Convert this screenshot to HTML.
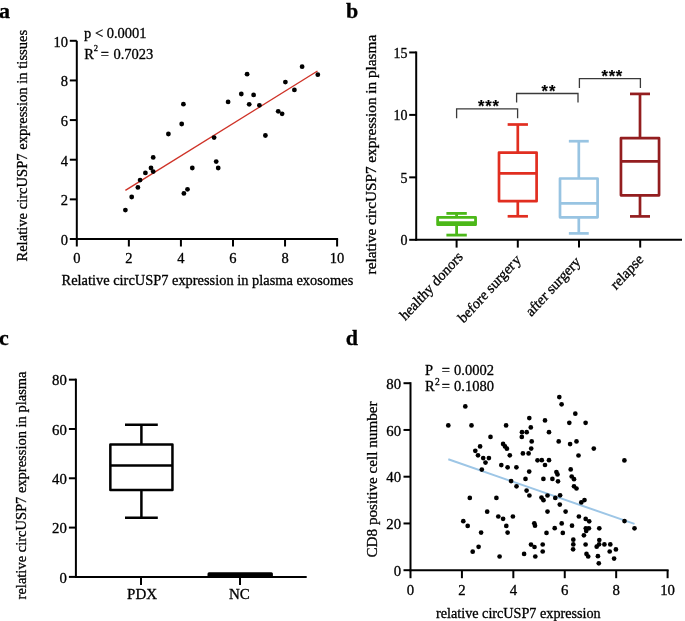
<!DOCTYPE html>
<html><head><meta charset="utf-8"><style>
html,body{margin:0;padding:0;background:#fff;width:685px;height:621px;overflow:hidden;}
svg{display:block;will-change:transform;}
text{fill:#000;stroke:#000;stroke-width:0.3px;}
.st{stroke-width:0.2px;}
</style></head><body>
<svg width="685" height="621" viewBox="0 0 685 621">
<rect width="685" height="621" fill="#fff"/>
<text x="-1.00" y="17.80" font-size="22" text-anchor="start" font-weight="bold" font-family='"Liberation Serif", serif'>a</text>
<text x="346.00" y="17.80" font-size="22" text-anchor="start" font-weight="bold" font-family='"Liberation Serif", serif'>b</text>
<text x="-1.00" y="344.70" font-size="22" text-anchor="start" font-weight="bold" font-family='"Liberation Serif", serif'>c</text>
<text x="345.80" y="344.80" font-size="22" text-anchor="start" font-weight="bold" font-family='"Liberation Serif", serif'>d</text>
<line x1="76.80" y1="40.80" x2="76.80" y2="240.00" stroke="#000" stroke-width="2.0" stroke-linecap="butt"/>
<line x1="75.80" y1="239.00" x2="338.10" y2="239.00" stroke="#000" stroke-width="2.0" stroke-linecap="butt"/>
<line x1="69.80" y1="239.00" x2="76.80" y2="239.00" stroke="#000" stroke-width="2.0" stroke-linecap="butt"/>
<text x="68.00" y="245.00" font-size="14.5" text-anchor="end" font-weight="normal" font-family='"Liberation Serif", serif'>0</text>
<line x1="76.80" y1="239.00" x2="76.80" y2="246.50" stroke="#000" stroke-width="2.0" stroke-linecap="butt"/>
<text x="76.80" y="262.60" font-size="14.5" text-anchor="middle" font-weight="normal" font-family='"Liberation Serif", serif'>0</text>
<line x1="69.80" y1="199.36" x2="76.80" y2="199.36" stroke="#000" stroke-width="2.0" stroke-linecap="butt"/>
<text x="68.00" y="205.36" font-size="14.5" text-anchor="end" font-weight="normal" font-family='"Liberation Serif", serif'>2</text>
<line x1="128.86" y1="239.00" x2="128.86" y2="246.50" stroke="#000" stroke-width="2.0" stroke-linecap="butt"/>
<text x="128.86" y="262.60" font-size="14.5" text-anchor="middle" font-weight="normal" font-family='"Liberation Serif", serif'>2</text>
<line x1="69.80" y1="159.72" x2="76.80" y2="159.72" stroke="#000" stroke-width="2.0" stroke-linecap="butt"/>
<text x="68.00" y="165.72" font-size="14.5" text-anchor="end" font-weight="normal" font-family='"Liberation Serif", serif'>4</text>
<line x1="180.92" y1="239.00" x2="180.92" y2="246.50" stroke="#000" stroke-width="2.0" stroke-linecap="butt"/>
<text x="180.92" y="262.60" font-size="14.5" text-anchor="middle" font-weight="normal" font-family='"Liberation Serif", serif'>4</text>
<line x1="69.80" y1="120.08" x2="76.80" y2="120.08" stroke="#000" stroke-width="2.0" stroke-linecap="butt"/>
<text x="68.00" y="126.08" font-size="14.5" text-anchor="end" font-weight="normal" font-family='"Liberation Serif", serif'>6</text>
<line x1="232.98" y1="239.00" x2="232.98" y2="246.50" stroke="#000" stroke-width="2.0" stroke-linecap="butt"/>
<text x="232.98" y="262.60" font-size="14.5" text-anchor="middle" font-weight="normal" font-family='"Liberation Serif", serif'>6</text>
<line x1="69.80" y1="80.44" x2="76.80" y2="80.44" stroke="#000" stroke-width="2.0" stroke-linecap="butt"/>
<text x="68.00" y="86.44" font-size="14.5" text-anchor="end" font-weight="normal" font-family='"Liberation Serif", serif'>8</text>
<line x1="285.04" y1="239.00" x2="285.04" y2="246.50" stroke="#000" stroke-width="2.0" stroke-linecap="butt"/>
<text x="285.04" y="262.60" font-size="14.5" text-anchor="middle" font-weight="normal" font-family='"Liberation Serif", serif'>8</text>
<line x1="69.80" y1="40.80" x2="76.80" y2="40.80" stroke="#000" stroke-width="2.0" stroke-linecap="butt"/>
<text x="68.00" y="46.80" font-size="14.5" text-anchor="end" font-weight="normal" font-family='"Liberation Serif", serif'>10</text>
<line x1="337.10" y1="239.00" x2="337.10" y2="246.50" stroke="#000" stroke-width="2.0" stroke-linecap="butt"/>
<text x="337.10" y="262.60" font-size="14.5" text-anchor="middle" font-weight="normal" font-family='"Liberation Serif", serif'>10</text>
<text x="61.60" y="285.00" font-size="14.42" text-anchor="start" font-weight="normal" font-family='"Liberation Serif", serif'>Relative circUSP7 expression in plasma exosomes</text>
<text x="26.60" y="261.60" font-size="14.6" text-anchor="start" font-weight="normal" font-family='"Liberation Serif", serif' transform="rotate(-90 26.60 261.60)">Relative circUSP7 expression in tissues</text>
<text x="84.00" y="38.20" font-size="14.5" text-anchor="start" font-weight="normal" font-family='"Liberation Serif", serif'>p &lt; 0.0001</text>
<text x="84.2" y="58.5" font-size="14.5" font-family='"Liberation Serif", serif'>R<tspan font-size="8.5" dy="-7.2">2</tspan><tspan dy="7.2" x="100.7">=</tspan><tspan x="113.4">0.7023</tspan></text>
<line x1="125.40" y1="190.40" x2="317.50" y2="71.00" stroke="#cf3328" stroke-width="1.4" stroke-linecap="butt"/>
<circle cx="125.40" cy="210.10" r="2.4" fill="#000"/>
<circle cx="131.70" cy="197.00" r="2.4" fill="#000"/>
<circle cx="137.90" cy="187.40" r="2.4" fill="#000"/>
<circle cx="140.10" cy="180.10" r="2.4" fill="#000"/>
<circle cx="145.40" cy="172.90" r="2.4" fill="#000"/>
<circle cx="151.00" cy="168.00" r="2.4" fill="#000"/>
<circle cx="153.20" cy="171.60" r="2.4" fill="#000"/>
<circle cx="153.20" cy="157.40" r="2.4" fill="#000"/>
<circle cx="168.40" cy="134.00" r="2.4" fill="#000"/>
<circle cx="181.70" cy="124.00" r="2.4" fill="#000"/>
<circle cx="183.40" cy="104.20" r="2.4" fill="#000"/>
<circle cx="183.90" cy="193.40" r="2.4" fill="#000"/>
<circle cx="187.50" cy="189.30" r="2.4" fill="#000"/>
<circle cx="192.30" cy="168.00" r="2.4" fill="#000"/>
<circle cx="214.10" cy="137.60" r="2.4" fill="#000"/>
<circle cx="216.20" cy="161.60" r="2.4" fill="#000"/>
<circle cx="218.20" cy="168.00" r="2.4" fill="#000"/>
<circle cx="228.10" cy="101.90" r="2.4" fill="#000"/>
<circle cx="241.30" cy="94.00" r="2.4" fill="#000"/>
<circle cx="247.10" cy="74.20" r="2.4" fill="#000"/>
<circle cx="249.20" cy="104.30" r="2.4" fill="#000"/>
<circle cx="253.60" cy="94.90" r="2.4" fill="#000"/>
<circle cx="259.40" cy="105.30" r="2.4" fill="#000"/>
<circle cx="265.40" cy="135.50" r="2.4" fill="#000"/>
<circle cx="278.20" cy="111.30" r="2.4" fill="#000"/>
<circle cx="282.10" cy="113.80" r="2.4" fill="#000"/>
<circle cx="285.40" cy="82.10" r="2.4" fill="#000"/>
<circle cx="294.40" cy="89.90" r="2.4" fill="#000"/>
<circle cx="302.10" cy="66.70" r="2.4" fill="#000"/>
<circle cx="317.80" cy="74.70" r="2.4" fill="#000"/>
<line x1="416.20" y1="51.45" x2="416.20" y2="240.80" stroke="#000" stroke-width="2.0" stroke-linecap="butt"/>
<line x1="415.20" y1="239.80" x2="682.00" y2="239.80" stroke="#000" stroke-width="2.0" stroke-linecap="butt"/>
<line x1="409.20" y1="239.80" x2="416.20" y2="239.80" stroke="#000" stroke-width="2.0" stroke-linecap="butt"/>
<text x="0" y="0" font-size="14" text-anchor="end" font-weight="normal" font-family='"Liberation Serif", serif' transform="translate(407.60 245.30) scale(1 1.09)">0</text>
<line x1="409.20" y1="177.35" x2="416.20" y2="177.35" stroke="#000" stroke-width="2.0" stroke-linecap="butt"/>
<text x="0" y="0" font-size="14" text-anchor="end" font-weight="normal" font-family='"Liberation Serif", serif' transform="translate(407.60 182.85) scale(1 1.09)">5</text>
<line x1="409.20" y1="114.90" x2="416.20" y2="114.90" stroke="#000" stroke-width="2.0" stroke-linecap="butt"/>
<text x="0" y="0" font-size="14" text-anchor="end" font-weight="normal" font-family='"Liberation Serif", serif' transform="translate(407.60 120.40) scale(1 1.09)">10</text>
<line x1="409.20" y1="52.45" x2="416.20" y2="52.45" stroke="#000" stroke-width="2.0" stroke-linecap="butt"/>
<text x="0" y="0" font-size="14" text-anchor="end" font-weight="normal" font-family='"Liberation Serif", serif' transform="translate(407.60 57.95) scale(1 1.09)">15</text>
<text x="0" y="0" font-size="14.0" text-anchor="start" font-weight="normal" font-family='"Liberation Serif", serif' transform="translate(375.70 274.40) scale(1 1.09) rotate(-90)">relative circUSP7 expression in plasma</text>
<line x1="456.60" y1="239.80" x2="456.60" y2="247.60" stroke="#000" stroke-width="2.0" stroke-linecap="butt"/>
<text x="0" y="0" font-size="14.0" text-anchor="end" font-weight="normal" font-family='"Liberation Serif", serif' transform="translate(463.70 257.60) scale(1 1.09) rotate(-45)">healthy donors</text>
<line x1="517.80" y1="239.80" x2="517.80" y2="247.60" stroke="#000" stroke-width="2.0" stroke-linecap="butt"/>
<text x="0" y="0" font-size="14.0" text-anchor="end" font-weight="normal" font-family='"Liberation Serif", serif' transform="translate(521.70 260.50) scale(1 1.09) rotate(-45)">before surger<tspan dx="1.3">y</tspan></text>
<line x1="579.00" y1="239.80" x2="579.00" y2="247.60" stroke="#000" stroke-width="2.0" stroke-linecap="butt"/>
<text x="0" y="0" font-size="14.0" text-anchor="end" font-weight="normal" font-family='"Liberation Serif", serif' transform="translate(581.20 262.70) scale(1 1.09) rotate(-45)">after surgery</text>
<line x1="640.20" y1="239.80" x2="640.20" y2="247.60" stroke="#000" stroke-width="2.0" stroke-linecap="butt"/>
<text x="0" y="0" font-size="14.0" text-anchor="end" font-weight="normal" font-family='"Liberation Serif", serif' transform="translate(644.10 260.10) scale(1 1.09) rotate(-45)">relapse</text>
<rect x="437.65" y="217.40" width="37.90" height="7.30" fill="none" stroke="#4cb819" stroke-width="2.8" stroke-linejoin="round"/>
<line x1="437.65" y1="222.60" x2="475.55" y2="222.60" stroke="#4cb819" stroke-width="2.8" stroke-linecap="butt"/>
<line x1="456.60" y1="213.40" x2="456.60" y2="217.40" stroke="#4cb819" stroke-width="2.8" stroke-linecap="butt"/>
<line x1="456.60" y1="224.70" x2="456.60" y2="235.10" stroke="#4cb819" stroke-width="2.8" stroke-linecap="butt"/>
<line x1="446.40" y1="213.40" x2="466.80" y2="213.40" stroke="#4cb819" stroke-width="2.8" stroke-linecap="butt"/>
<line x1="446.40" y1="235.10" x2="466.80" y2="235.10" stroke="#4cb819" stroke-width="2.8" stroke-linecap="butt"/>
<rect x="499.00" y="152.60" width="37.60" height="48.60" fill="none" stroke="#e12e20" stroke-width="2.7" stroke-linejoin="round"/>
<line x1="499.00" y1="173.40" x2="536.60" y2="173.40" stroke="#e12e20" stroke-width="2.7" stroke-linecap="butt"/>
<line x1="517.80" y1="124.50" x2="517.80" y2="152.60" stroke="#e12e20" stroke-width="2.7" stroke-linecap="butt"/>
<line x1="517.80" y1="201.20" x2="517.80" y2="216.30" stroke="#e12e20" stroke-width="2.7" stroke-linecap="butt"/>
<line x1="507.65" y1="124.50" x2="527.95" y2="124.50" stroke="#e12e20" stroke-width="2.7" stroke-linecap="butt"/>
<line x1="507.65" y1="216.30" x2="527.95" y2="216.30" stroke="#e12e20" stroke-width="2.7" stroke-linecap="butt"/>
<rect x="560.00" y="178.50" width="37.60" height="38.80" fill="none" stroke="#98c4e2" stroke-width="2.7" stroke-linejoin="round"/>
<line x1="560.00" y1="203.40" x2="597.60" y2="203.40" stroke="#98c4e2" stroke-width="2.7" stroke-linecap="butt"/>
<line x1="578.80" y1="141.20" x2="578.80" y2="178.50" stroke="#98c4e2" stroke-width="2.7" stroke-linecap="butt"/>
<line x1="578.80" y1="217.30" x2="578.80" y2="233.40" stroke="#98c4e2" stroke-width="2.7" stroke-linecap="butt"/>
<line x1="568.85" y1="141.20" x2="588.75" y2="141.20" stroke="#98c4e2" stroke-width="2.7" stroke-linecap="butt"/>
<line x1="568.85" y1="233.40" x2="588.75" y2="233.40" stroke="#98c4e2" stroke-width="2.7" stroke-linecap="butt"/>
<rect x="620.95" y="138.20" width="38.10" height="57.10" fill="none" stroke="#931d1f" stroke-width="2.7" stroke-linejoin="round"/>
<line x1="620.95" y1="161.40" x2="659.05" y2="161.40" stroke="#931d1f" stroke-width="2.7" stroke-linecap="butt"/>
<line x1="640.00" y1="93.90" x2="640.00" y2="138.20" stroke="#931d1f" stroke-width="2.7" stroke-linecap="butt"/>
<line x1="640.00" y1="195.30" x2="640.00" y2="216.40" stroke="#931d1f" stroke-width="2.7" stroke-linecap="butt"/>
<line x1="630.00" y1="93.90" x2="650.00" y2="93.90" stroke="#931d1f" stroke-width="2.7" stroke-linecap="butt"/>
<line x1="630.00" y1="216.40" x2="650.00" y2="216.40" stroke="#931d1f" stroke-width="2.7" stroke-linecap="butt"/>
<path d="M456.60 118.20 V108.90 H517.60 V118.20" fill="none" stroke="#3a3a3a" stroke-width="1.3"/>
<text x="481.20" y="111.92" font-size="16.5" text-anchor="middle" font-weight="bold" font-family='"Liberation Sans", sans-serif' class="st">*</text>
<text x="488.40" y="111.92" font-size="16.5" text-anchor="middle" font-weight="bold" font-family='"Liberation Sans", sans-serif' class="st">*</text>
<text x="495.80" y="111.92" font-size="16.5" text-anchor="middle" font-weight="bold" font-family='"Liberation Sans", sans-serif' class="st">*</text>
<path d="M516.60 102.60 V93.50 H578.00 V102.60" fill="none" stroke="#3a3a3a" stroke-width="1.3"/>
<text x="544.80" y="97.32" font-size="16.5" text-anchor="middle" font-weight="bold" font-family='"Liberation Sans", sans-serif' class="st">*</text>
<text x="552.10" y="97.32" font-size="16.5" text-anchor="middle" font-weight="bold" font-family='"Liberation Sans", sans-serif' class="st">*</text>
<path d="M579.40 87.90 V78.60 H640.40 V87.90" fill="none" stroke="#3a3a3a" stroke-width="1.3"/>
<text x="604.70" y="82.42" font-size="16.5" text-anchor="middle" font-weight="bold" font-family='"Liberation Sans", sans-serif' class="st">*</text>
<text x="611.90" y="82.42" font-size="16.5" text-anchor="middle" font-weight="bold" font-family='"Liberation Sans", sans-serif' class="st">*</text>
<text x="619.00" y="82.42" font-size="16.5" text-anchor="middle" font-weight="bold" font-family='"Liberation Sans", sans-serif' class="st">*</text>
<line x1="75.90" y1="378.66" x2="75.90" y2="577.90" stroke="#000" stroke-width="2.0" stroke-linecap="butt"/>
<line x1="74.90" y1="576.90" x2="306.70" y2="576.90" stroke="#000" stroke-width="2.0" stroke-linecap="butt"/>
<line x1="68.90" y1="576.90" x2="75.90" y2="576.90" stroke="#000" stroke-width="2.0" stroke-linecap="butt"/>
<text x="66.90" y="582.50" font-size="14.8" text-anchor="end" font-weight="normal" font-family='"Liberation Serif", serif'>0</text>
<line x1="68.90" y1="527.59" x2="75.90" y2="527.59" stroke="#000" stroke-width="2.0" stroke-linecap="butt"/>
<text x="66.90" y="533.19" font-size="14.8" text-anchor="end" font-weight="normal" font-family='"Liberation Serif", serif'>20</text>
<line x1="68.90" y1="478.28" x2="75.90" y2="478.28" stroke="#000" stroke-width="2.0" stroke-linecap="butt"/>
<text x="66.90" y="483.88" font-size="14.8" text-anchor="end" font-weight="normal" font-family='"Liberation Serif", serif'>40</text>
<line x1="68.90" y1="428.97" x2="75.90" y2="428.97" stroke="#000" stroke-width="2.0" stroke-linecap="butt"/>
<text x="66.90" y="434.57" font-size="14.8" text-anchor="end" font-weight="normal" font-family='"Liberation Serif", serif'>60</text>
<line x1="68.90" y1="379.66" x2="75.90" y2="379.66" stroke="#000" stroke-width="2.0" stroke-linecap="butt"/>
<text x="66.90" y="385.26" font-size="14.8" text-anchor="end" font-weight="normal" font-family='"Liberation Serif", serif'>80</text>
<text x="26.50" y="599.40" font-size="14.5" text-anchor="start" font-weight="normal" font-family='"Liberation Serif", serif' transform="rotate(-90 26.50 599.40)">relative circUSP7 expression in plasma</text>
<line x1="141.00" y1="576.90" x2="141.00" y2="584.90" stroke="#000" stroke-width="2.0" stroke-linecap="butt"/>
<text x="142.10" y="598.60" font-size="15" text-anchor="middle" font-weight="normal" font-family='"Liberation Serif", serif'>PDX</text>
<line x1="240.00" y1="576.90" x2="240.00" y2="584.90" stroke="#000" stroke-width="2.0" stroke-linecap="butt"/>
<text x="239.30" y="598.60" font-size="15" text-anchor="middle" font-weight="normal" font-family='"Liberation Serif", serif'>NC</text>
<rect x="110.35" y="444.50" width="62.10" height="45.40" fill="none" stroke="#000" stroke-width="2.5" stroke-linejoin="round"/>
<line x1="110.35" y1="465.50" x2="172.45" y2="465.50" stroke="#000" stroke-width="2.5" stroke-linecap="butt"/>
<line x1="141.40" y1="424.80" x2="141.40" y2="444.50" stroke="#000" stroke-width="2.5" stroke-linecap="butt"/>
<line x1="141.40" y1="489.90" x2="141.40" y2="517.70" stroke="#000" stroke-width="2.5" stroke-linecap="butt"/>
<line x1="125.00" y1="424.80" x2="157.80" y2="424.80" stroke="#000" stroke-width="2.5" stroke-linecap="butt"/>
<line x1="125.00" y1="517.70" x2="157.80" y2="517.70" stroke="#000" stroke-width="2.5" stroke-linecap="butt"/>
<rect x="207.5" y="572.2" width="65.4" height="5" rx="1.5" fill="#000"/>
<line x1="410.50" y1="382.20" x2="410.50" y2="571.20" stroke="#000" stroke-width="2.0" stroke-linecap="butt"/>
<line x1="409.50" y1="570.20" x2="668.60" y2="570.20" stroke="#000" stroke-width="2.0" stroke-linecap="butt"/>
<line x1="403.50" y1="570.20" x2="410.50" y2="570.20" stroke="#000" stroke-width="2.0" stroke-linecap="butt"/>
<text x="401.10" y="575.80" font-size="14.8" text-anchor="end" font-weight="normal" font-family='"Liberation Serif", serif'>0</text>
<line x1="403.50" y1="523.45" x2="410.50" y2="523.45" stroke="#000" stroke-width="2.0" stroke-linecap="butt"/>
<text x="401.10" y="529.05" font-size="14.8" text-anchor="end" font-weight="normal" font-family='"Liberation Serif", serif'>20</text>
<line x1="403.50" y1="476.70" x2="410.50" y2="476.70" stroke="#000" stroke-width="2.0" stroke-linecap="butt"/>
<text x="401.10" y="482.30" font-size="14.8" text-anchor="end" font-weight="normal" font-family='"Liberation Serif", serif'>40</text>
<line x1="403.50" y1="429.95" x2="410.50" y2="429.95" stroke="#000" stroke-width="2.0" stroke-linecap="butt"/>
<text x="401.10" y="435.55" font-size="14.8" text-anchor="end" font-weight="normal" font-family='"Liberation Serif", serif'>60</text>
<line x1="403.50" y1="383.20" x2="410.50" y2="383.20" stroke="#000" stroke-width="2.0" stroke-linecap="butt"/>
<text x="401.10" y="388.80" font-size="14.8" text-anchor="end" font-weight="normal" font-family='"Liberation Serif", serif'>80</text>
<line x1="410.50" y1="570.20" x2="410.50" y2="578.20" stroke="#000" stroke-width="2.0" stroke-linecap="butt"/>
<text x="410.50" y="594.60" font-size="14.8" text-anchor="middle" font-weight="normal" font-family='"Liberation Serif", serif'>0</text>
<line x1="461.92" y1="570.20" x2="461.92" y2="578.20" stroke="#000" stroke-width="2.0" stroke-linecap="butt"/>
<text x="461.92" y="594.60" font-size="14.8" text-anchor="middle" font-weight="normal" font-family='"Liberation Serif", serif'>2</text>
<line x1="513.34" y1="570.20" x2="513.34" y2="578.20" stroke="#000" stroke-width="2.0" stroke-linecap="butt"/>
<text x="513.34" y="594.60" font-size="14.8" text-anchor="middle" font-weight="normal" font-family='"Liberation Serif", serif'>4</text>
<line x1="564.76" y1="570.20" x2="564.76" y2="578.20" stroke="#000" stroke-width="2.0" stroke-linecap="butt"/>
<text x="564.76" y="594.60" font-size="14.8" text-anchor="middle" font-weight="normal" font-family='"Liberation Serif", serif'>6</text>
<line x1="616.18" y1="570.20" x2="616.18" y2="578.20" stroke="#000" stroke-width="2.0" stroke-linecap="butt"/>
<text x="616.18" y="594.60" font-size="14.8" text-anchor="middle" font-weight="normal" font-family='"Liberation Serif", serif'>8</text>
<line x1="667.60" y1="570.20" x2="667.60" y2="578.20" stroke="#000" stroke-width="2.0" stroke-linecap="butt"/>
<text x="667.60" y="594.60" font-size="14.8" text-anchor="middle" font-weight="normal" font-family='"Liberation Serif", serif'>10</text>
<text x="0" y="0" font-size="14.3" text-anchor="start" font-weight="normal" font-family='"Liberation Serif", serif' transform="translate(376.80 557.50) scale(1 1.06) rotate(-90)">CD8 positive cell number</text>
<text x="436.00" y="617.50" font-size="14.2" text-anchor="start" font-weight="normal" font-family='"Liberation Serif", serif'>relative circUSP7 expression</text>
<text x="425.0" y="374.5" font-size="14.5" font-family='"Liberation Serif", serif'>P<tspan x="441.7">=</tspan><tspan x="454.0">0.0002</tspan></text>
<text x="425.0" y="391.4" font-size="14.5" font-family='"Liberation Serif", serif'>R<tspan font-size="9.5" dy="-6.2" dx="0.4">2</tspan><tspan dy="6.2" x="441.7">=</tspan><tspan x="454.0">0.1080</tspan></text>
<line x1="448.30" y1="459.30" x2="634.50" y2="523.90" stroke="#9dc6e6" stroke-width="2.0" stroke-linecap="butt"/>
<circle cx="465.30" cy="406.40" r="2.35" fill="#000"/>
<circle cx="448.30" cy="425.40" r="2.35" fill="#000"/>
<circle cx="471.50" cy="425.40" r="2.35" fill="#000"/>
<circle cx="506.10" cy="425.40" r="2.35" fill="#000"/>
<circle cx="529.30" cy="418.10" r="2.35" fill="#000"/>
<circle cx="530.80" cy="427.40" r="2.35" fill="#000"/>
<circle cx="522.00" cy="432.20" r="2.35" fill="#000"/>
<circle cx="526.70" cy="432.20" r="2.35" fill="#000"/>
<circle cx="521.80" cy="436.90" r="2.35" fill="#000"/>
<circle cx="490.50" cy="436.90" r="2.35" fill="#000"/>
<circle cx="531.70" cy="441.40" r="2.35" fill="#000"/>
<circle cx="480.10" cy="446.40" r="2.35" fill="#000"/>
<circle cx="503.10" cy="443.90" r="2.35" fill="#000"/>
<circle cx="505.00" cy="446.40" r="2.35" fill="#000"/>
<circle cx="506.90" cy="448.70" r="2.35" fill="#000"/>
<circle cx="531.20" cy="448.60" r="2.35" fill="#000"/>
<circle cx="475.30" cy="450.80" r="2.35" fill="#000"/>
<circle cx="478.00" cy="455.30" r="2.35" fill="#000"/>
<circle cx="509.80" cy="455.30" r="2.35" fill="#000"/>
<circle cx="522.90" cy="453.40" r="2.35" fill="#000"/>
<circle cx="528.60" cy="453.40" r="2.35" fill="#000"/>
<circle cx="483.20" cy="458.10" r="2.35" fill="#000"/>
<circle cx="488.90" cy="458.10" r="2.35" fill="#000"/>
<circle cx="485.50" cy="462.60" r="2.35" fill="#000"/>
<circle cx="537.50" cy="460.30" r="2.35" fill="#000"/>
<circle cx="501.30" cy="465.10" r="2.35" fill="#000"/>
<circle cx="507.60" cy="467.30" r="2.35" fill="#000"/>
<circle cx="516.40" cy="467.30" r="2.35" fill="#000"/>
<circle cx="481.80" cy="469.60" r="2.35" fill="#000"/>
<circle cx="529.20" cy="471.60" r="2.35" fill="#000"/>
<circle cx="525.50" cy="478.90" r="2.35" fill="#000"/>
<circle cx="511.10" cy="481.10" r="2.35" fill="#000"/>
<circle cx="559.30" cy="397.10" r="2.35" fill="#000"/>
<circle cx="561.60" cy="404.30" r="2.35" fill="#000"/>
<circle cx="575.30" cy="413.70" r="2.35" fill="#000"/>
<circle cx="545.00" cy="420.40" r="2.35" fill="#000"/>
<circle cx="569.30" cy="422.80" r="2.35" fill="#000"/>
<circle cx="585.60" cy="422.80" r="2.35" fill="#000"/>
<circle cx="549.00" cy="432.20" r="2.35" fill="#000"/>
<circle cx="558.70" cy="441.40" r="2.35" fill="#000"/>
<circle cx="570.10" cy="444.10" r="2.35" fill="#000"/>
<circle cx="576.50" cy="441.40" r="2.35" fill="#000"/>
<circle cx="593.80" cy="448.60" r="2.35" fill="#000"/>
<circle cx="578.50" cy="455.50" r="2.35" fill="#000"/>
<circle cx="624.40" cy="460.40" r="2.35" fill="#000"/>
<circle cx="541.80" cy="460.20" r="2.35" fill="#000"/>
<circle cx="549.00" cy="460.20" r="2.35" fill="#000"/>
<circle cx="545.00" cy="465.00" r="2.35" fill="#000"/>
<circle cx="570.70" cy="469.40" r="2.35" fill="#000"/>
<circle cx="556.40" cy="472.00" r="2.35" fill="#000"/>
<circle cx="557.50" cy="474.40" r="2.35" fill="#000"/>
<circle cx="571.70" cy="476.50" r="2.35" fill="#000"/>
<circle cx="574.00" cy="479.20" r="2.35" fill="#000"/>
<circle cx="543.40" cy="478.90" r="2.35" fill="#000"/>
<circle cx="552.40" cy="478.90" r="2.35" fill="#000"/>
<circle cx="558.00" cy="481.30" r="2.35" fill="#000"/>
<circle cx="516.50" cy="486.30" r="2.35" fill="#000"/>
<circle cx="526.60" cy="490.60" r="2.35" fill="#000"/>
<circle cx="529.40" cy="495.50" r="2.35" fill="#000"/>
<circle cx="469.80" cy="497.90" r="2.35" fill="#000"/>
<circle cx="496.40" cy="497.90" r="2.35" fill="#000"/>
<circle cx="487.20" cy="511.70" r="2.35" fill="#000"/>
<circle cx="498.30" cy="516.50" r="2.35" fill="#000"/>
<circle cx="503.10" cy="518.80" r="2.35" fill="#000"/>
<circle cx="512.90" cy="516.50" r="2.35" fill="#000"/>
<circle cx="463.30" cy="521.20" r="2.35" fill="#000"/>
<circle cx="467.70" cy="525.90" r="2.35" fill="#000"/>
<circle cx="506.30" cy="525.90" r="2.35" fill="#000"/>
<circle cx="534.30" cy="523.30" r="2.35" fill="#000"/>
<circle cx="535.00" cy="525.70" r="2.35" fill="#000"/>
<circle cx="481.10" cy="532.60" r="2.35" fill="#000"/>
<circle cx="507.60" cy="532.60" r="2.35" fill="#000"/>
<circle cx="531.00" cy="544.60" r="2.35" fill="#000"/>
<circle cx="534.50" cy="547.00" r="2.35" fill="#000"/>
<circle cx="478.60" cy="546.80" r="2.35" fill="#000"/>
<circle cx="472.70" cy="551.70" r="2.35" fill="#000"/>
<circle cx="499.60" cy="556.50" r="2.35" fill="#000"/>
<circle cx="524.10" cy="553.90" r="2.35" fill="#000"/>
<circle cx="535.30" cy="556.50" r="2.35" fill="#000"/>
<circle cx="574.00" cy="486.30" r="2.35" fill="#000"/>
<circle cx="576.50" cy="488.50" r="2.35" fill="#000"/>
<circle cx="547.50" cy="495.50" r="2.35" fill="#000"/>
<circle cx="541.50" cy="497.60" r="2.35" fill="#000"/>
<circle cx="543.50" cy="500.20" r="2.35" fill="#000"/>
<circle cx="555.30" cy="497.90" r="2.35" fill="#000"/>
<circle cx="560.10" cy="495.30" r="2.35" fill="#000"/>
<circle cx="559.80" cy="504.60" r="2.35" fill="#000"/>
<circle cx="547.50" cy="511.60" r="2.35" fill="#000"/>
<circle cx="565.60" cy="511.60" r="2.35" fill="#000"/>
<circle cx="581.30" cy="502.40" r="2.35" fill="#000"/>
<circle cx="584.50" cy="500.10" r="2.35" fill="#000"/>
<circle cx="578.90" cy="516.50" r="2.35" fill="#000"/>
<circle cx="585.70" cy="518.90" r="2.35" fill="#000"/>
<circle cx="589.20" cy="521.30" r="2.35" fill="#000"/>
<circle cx="624.50" cy="521.10" r="2.35" fill="#000"/>
<circle cx="546.50" cy="532.90" r="2.35" fill="#000"/>
<circle cx="554.70" cy="528.20" r="2.35" fill="#000"/>
<circle cx="561.70" cy="523.40" r="2.35" fill="#000"/>
<circle cx="562.80" cy="532.90" r="2.35" fill="#000"/>
<circle cx="572.00" cy="525.70" r="2.35" fill="#000"/>
<circle cx="573.30" cy="539.70" r="2.35" fill="#000"/>
<circle cx="573.30" cy="544.40" r="2.35" fill="#000"/>
<circle cx="573.10" cy="549.30" r="2.35" fill="#000"/>
<circle cx="583.90" cy="535.30" r="2.35" fill="#000"/>
<circle cx="585.60" cy="544.50" r="2.35" fill="#000"/>
<circle cx="586.50" cy="553.90" r="2.35" fill="#000"/>
<circle cx="588.20" cy="556.50" r="2.35" fill="#000"/>
<circle cx="542.70" cy="544.50" r="2.35" fill="#000"/>
<circle cx="542.70" cy="551.50" r="2.35" fill="#000"/>
<circle cx="634.50" cy="528.30" r="2.35" fill="#000"/>
<circle cx="599.30" cy="528.30" r="2.35" fill="#000"/>
<circle cx="585.80" cy="528.30" r="2.35" fill="#000"/>
<circle cx="588.90" cy="528.30" r="2.35" fill="#000"/>
<circle cx="586.20" cy="531.00" r="2.35" fill="#000"/>
<circle cx="599.30" cy="540.00" r="2.35" fill="#000"/>
<circle cx="599.10" cy="544.30" r="2.35" fill="#000"/>
<circle cx="596.70" cy="546.70" r="2.35" fill="#000"/>
<circle cx="604.40" cy="544.40" r="2.35" fill="#000"/>
<circle cx="610.30" cy="544.40" r="2.35" fill="#000"/>
<circle cx="615.90" cy="549.40" r="2.35" fill="#000"/>
<circle cx="609.70" cy="551.50" r="2.35" fill="#000"/>
<circle cx="597.90" cy="556.20" r="2.35" fill="#000"/>
<circle cx="614.10" cy="558.60" r="2.35" fill="#000"/>
<circle cx="598.80" cy="563.30" r="2.35" fill="#000"/>
</svg>
</body></html>
